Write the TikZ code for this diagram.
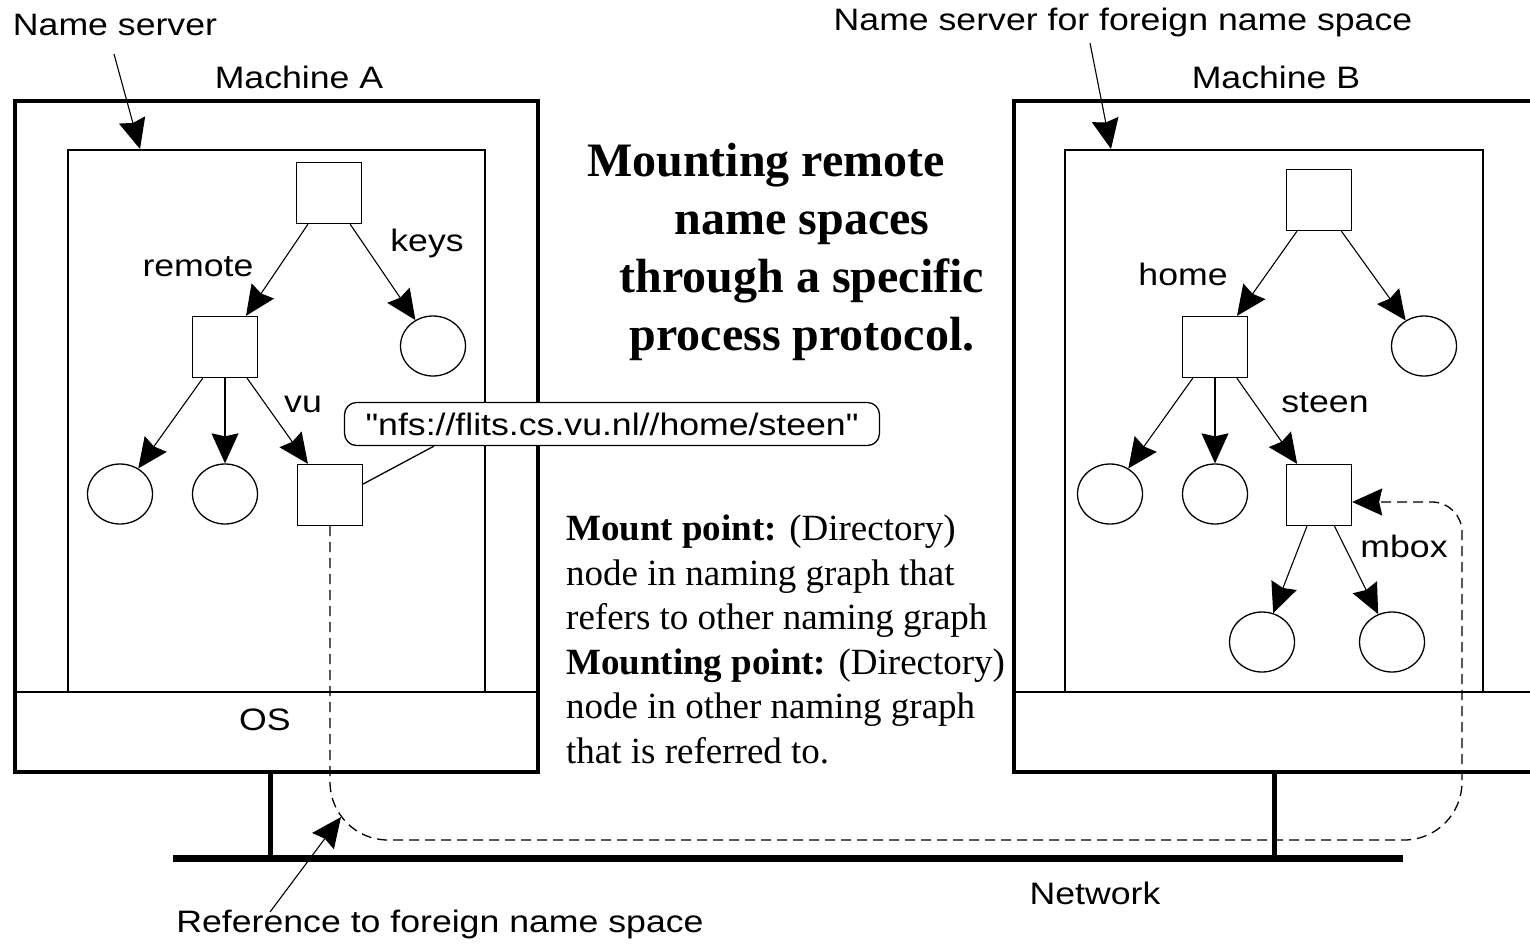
\documentclass[tikz,border=0pt]{standalone}
\usepackage{fontspec}
\setmainfont{Liberation Serif}
\newfontfamily\labfont[FakeStretch=1.15]{Liberation Sans}
\usetikzlibrary{shapes.geometric,arrows.meta,calc}

\begin{document}
\begin{tikzpicture}[x=1pt,y=-1pt,
  lab/.style={font=\labfont\fontsize{31}{37}\selectfont, inner sep=0pt},
  dirbox/.style={draw, line width=1.3pt, minimum width=65pt, minimum height=61pt, inner sep=0pt},
  leafnode/.style={draw, ellipse, line width=1.3pt, minimum width=65pt, minimum height=60pt, inner sep=0pt},
  bigtip/.style={-{Stealth[length=30pt,width=27pt,inset=3pt]}},
  treearrow/.style={line width=1.1pt, bigtip},
  machine/.style={line width=4pt},
  fineline/.style={line width=1.3pt},
  netline/.style={line width=7pt},
  stub/.style={line width=5pt},
]
% canvas
\fill[white] (0,0) rectangle (1530,943);
\useasboundingbox (0,0) rectangle (1530,943);

% ---------- Machine A ----------
\draw[machine] (15,101) rectangle (538,772);
\draw[fineline] (68,150) rectangle (485,692);
\draw[fineline] (15,692) -- (538,692);
\node[lab] (osA) at (265,720) {OS};
\node[lab] (machA) at (299,77) {Machine A};

% ---------- Machine B ----------
\draw[machine] (1534,101) -- (1014,101) -- (1014,772) -- (1534,772);
\draw[fineline] (1065,150) rectangle (1483,692);
\draw[fineline] (1014,692) -- (1534,692);
\node[lab] (machB) at (1276,77) {Machine B};

% ---------- network ----------
\draw[netline] (173,858) -- (1403,858);
\draw[stub] (270,772) -- (270,858);
\draw[stub] (1274,772) -- (1274,858);
\node[lab] (netlab) at (1095,893) {Network};

% ---------- name server labels ----------
\node[lab] (nsA) at (115,25) {Name server};
\coordinate (nsAfrom) at (114,54);
\coordinate (nsAto) at (140,149);
\draw[treearrow] (nsAfrom) -- (nsAto);

\node[lab] (nsB) at (1123,22) {Name server for foreign name space};
\coordinate (nsBfrom) at (1090,43);
\coordinate (nsBto) at (1111,149);
\draw[treearrow] (nsBfrom) -- (nsBto);

% ---------- naming graph on machine A ----------
\node[dirbox] (rootA) at (329,193) {};
\node[dirbox] (remoteA) at (225,347) {};
\node[leafnode] (keysA) at (433,346) {};
\node[leafnode] (l1A) at (120,494) {};
\node[leafnode] (l2A) at (225,494) {};
\node[dirbox] (vuA) at (330,495) {};

\draw[treearrow] (rootA) -- (remoteA);
\draw[treearrow] (rootA) -- (keysA);
\draw[treearrow] (remoteA) -- (l1A);
\draw[treearrow] (remoteA) -- (l2A);
\draw[treearrow] (remoteA) -- (vuA);

\node[lab] (remoteLab) at (198,267) {remote};
\node[lab] (keysLab) at (427,243) {keys};
\node[lab] (vuLab) at (303,404) {vu};

% ---------- naming graph on machine B ----------
\node[dirbox] (rootB) at (1319,200) {};
\node[dirbox] (homeB) at (1215,347) {};
\node[leafnode] (rightB) at (1424,346) {};
\node[leafnode] (l1B) at (1110,494) {};
\node[leafnode] (l2B) at (1215,494) {};
\node[dirbox] (steenB) at (1319,495) {};
\node[leafnode] (m1B) at (1262,642) {};
\node[leafnode] (m2B) at (1392,642) {};

\draw[treearrow] (rootB) -- (homeB);
\draw[treearrow] (rootB) -- (rightB);
\draw[treearrow] (homeB) -- (l1B);
\draw[treearrow] (homeB) -- (l2B);
\draw[treearrow] (homeB) -- (steenB);
\draw[treearrow] (steenB) -- (m1B);
\draw[treearrow] (steenB) -- (m2B);

\node[lab] (homeLab) at (1183,274) {home};
\node[lab] (steenLab) at (1325,403) {steen};
\node[lab] (mboxLab) at (1404,546) {mbox};

% ---------- mount reference ----------
\node[lab, draw, line width=1.3pt, rounded corners=12pt, inner xsep=21pt, minimum height=43pt, fill=white]
  (url) at (612,424) {"nfs://flits.cs.vu.nl//home/steen"};
\draw[fineline] ($(url.south west)+(90,0)$) -- ($(vuA.east)+(0,-11)$);

\coordinate (mntin) at ($(steenB.east)+(0,7)$);
\draw[fineline, dash pattern=on 10pt off 6pt, bigtip]
  (vuA.south) [rounded corners=58pt] -- (330,840) -- (1462,840)
  [rounded corners=30pt] -- (1462,502) -- (mntin);

\node[lab] (refLab) at (440,924) {Reference to foreign name space};
\coordinate (refFrom) at (270,912);
\coordinate (refTo) at (341,817);
\draw[treearrow] (refFrom) -- (refTo);

% ---------- text ----------
\node[font=\bfseries\fontsize{48}{58}\selectfont, align=center, anchor=north, inner sep=0pt]
  (title) at (802,143) {Mounting remote\hspace*{72pt}\\name spaces\\through a specific\\process protocol.};

\node[font=\fontsize{37}{44.5}\selectfont, align=left, anchor=north west, inner sep=0pt]
  (note) at (566,515) {\textbf{Mount point:} (Directory)\\node in naming graph that\\refers to other naming graph\\\textbf{Mounting point:} (Directory)\\node in other naming graph\\that is referred to.};
\end{tikzpicture}
\end{document}
